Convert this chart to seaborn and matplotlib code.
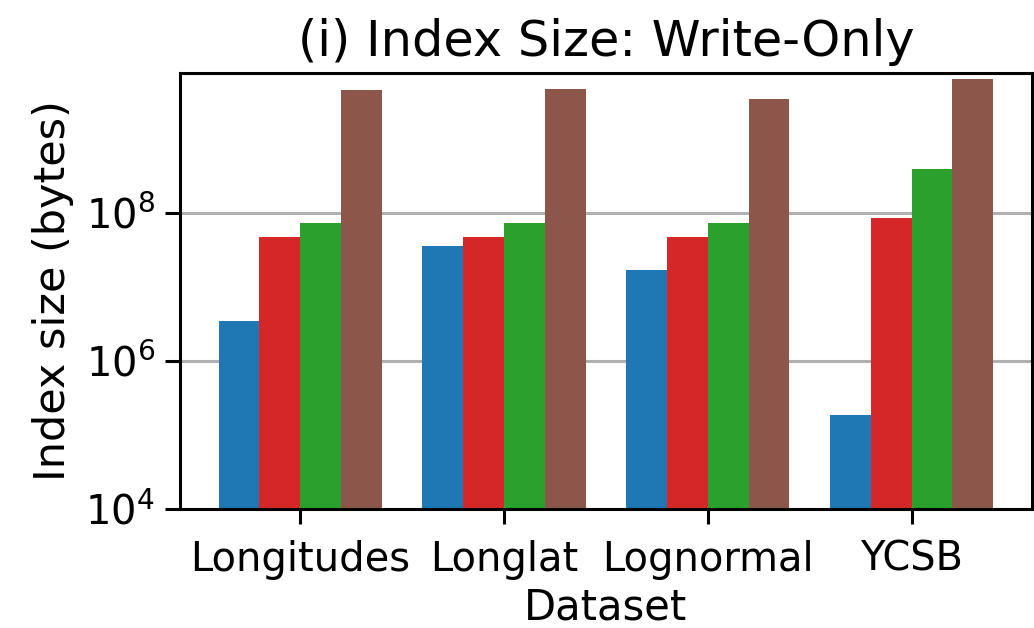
import numpy as np
import pandas as pd
import matplotlib
matplotlib.use("Agg")
import matplotlib.pyplot as plt
import matplotlib.ticker as mticker
import seaborn as sns

datasets = ["Longitudes", "Longlat", "Lognormal", "YCSB"]
series_names = ["Index A", "Index B", "Index C", "Index D"]
series_a = [3.4e6, 3.55e7, 1.7e7, 1.87e5]
series_b = [4.65e7, 4.65e7, 4.65e7, 8.6e7]
series_c = [7.2e7, 7.2e7, 7.2e7, 3.9e8]
series_d = [4.47e9, 4.75e9, 3.42e9, 6.4e9]
colors = ["#1f77b4", "#d62728", "#2ca02c", "#8c564b"]
y_ticks = [1e4, 1e6, 1e8]

rows = []
for name, vals in zip(series_names, [series_a, series_b, series_c, series_d]):
    for d, v in zip(datasets, vals):
        rows.append({"Dataset": d, "Index": name, "size": v})
df = pd.DataFrame(rows)

sns.set_style("ticks")
plt.rcParams["font.family"] = ["DejaVu Sans"]
plt.rcParams["text.color"] = "black"
plt.rcParams["axes.labelcolor"] = "black"
plt.rcParams["xtick.color"] = "black"
plt.rcParams["ytick.color"] = "black"

fig = plt.figure(figsize=(5.17, 3.14), dpi=200)
ax = fig.add_axes([0.174, 0.1895, 0.824, 0.6947])
ax.set_yscale("log")
sns.barplot(data=df, x="Dataset", y="size", hue="Index", order=datasets,
            hue_order=series_names, palette=colors, ax=ax, legend=False,
            saturation=1, width=0.8, errorbar=None, linewidth=0)

ax.set_ylim(1e4, 10**9.89)
ax.set_xlim(-0.59, 3.59)
ax.yaxis.set_major_locator(mticker.FixedLocator(y_ticks))
ax.yaxis.set_minor_locator(mticker.NullLocator())
ax.yaxis.grid(True, color="#b0b0b0", linewidth=1.1)
ax.set_axisbelow(True)
for s in ax.spines.values():
    s.set_visible(True)
    s.set_color("black")
    s.set_linewidth(1.1)
ax.tick_params(axis="both", labelsize=14.4, length=5.5, width=1.1,
               color="black", labelcolor="black")
ax.tick_params(axis="x", pad=5.5)
ax.set_xlabel("Dataset", fontsize=15, color="black", labelpad=2.5)
ax.set_ylabel("Index size (bytes)", fontsize=15.5, color="black")
ax.set_title("(i) Index Size: Write-Only", fontsize=17.8, pad=6, color="black")

fig.savefig("out.png", dpi=200)
